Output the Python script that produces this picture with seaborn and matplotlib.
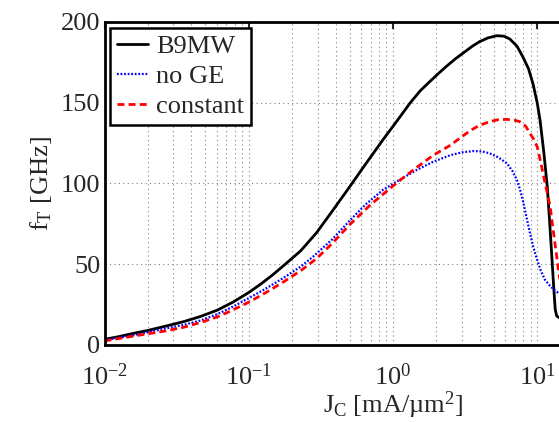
import matplotlib
matplotlib.use("Agg")
import matplotlib.pyplot as plt
import numpy as np
import pandas as pd
import seaborn as sns
from matplotlib.ticker import LogLocator, NullFormatter

# values; J given as log10(J [mA/um^2]), fT in GHz
logj_b9mw = [-2.0, -1.9, -1.8, -1.7, -1.57, -1.45, -1.34, -1.22, -1.11, -1.0,
             -0.92, -0.84, -0.76, -0.64, -0.53, -0.42, -0.30, -0.19, -0.07, 0.03,
             0.12, 0.19, 0.26, 0.32, 0.37, 0.43, 0.49, 0.55, 0.60, 0.66,
             0.72, 0.77, 0.81, 0.86, 0.90, 0.94, 0.97, 1.0, 1.02, 1.045,
             1.07, 1.085, 1.10, 1.115, 1.125, 1.135, 1.15, 1.2]
ft_b9mw = [3.5, 5.2, 7.2, 9.0, 11.8, 14.5, 17.5, 21.5, 26.5, 32.5,
           37.5, 43, 49, 58.3, 69.5, 83, 98, 112, 127, 139,
           150, 157.5, 163.5, 168.5, 172.5, 177, 181, 185, 187.8, 190.2,
           191.5, 191.2, 189.5, 185, 178.5, 171, 162, 150, 139, 120,
           98, 78, 56.8, 35, 22, 18, 17, 15]

logj_noge = [-2.0, -1.8, -1.57, -1.45, -1.34, -1.22, -1.11, -1.0, -0.88, -0.76,
             -0.64, -0.55, -0.42, -0.30, -0.19, -0.07, 0.05, 0.165, 0.28, 0.40,
             0.48, 0.56, 0.62, 0.67, 0.73, 0.79, 0.83, 0.86, 0.88, 0.90,
             0.925, 0.95, 0.975, 1.0, 1.025, 1.055, 1.09, 1.12, 1.15, 1.2]
ft_noge = [3, 6, 10.3, 12.5, 15, 19, 23.7, 29, 35, 41.5,
           48.5, 55, 65.5, 77, 87, 96, 102.5, 108.4, 113.5, 117.6,
           119.3, 120.1, 119.8, 118.7, 116.2, 112.5, 107.5, 102, 96.5, 89.8,
           79.5, 69.2, 60, 52.6, 46, 40.2, 36.5, 34, 32, 29]

logj_const = [-2.0, -1.8, -1.57, -1.45, -1.34, -1.22, -1.11, -1.0, -0.88, -0.76,
              -0.64, -0.53, -0.42, -0.30, -0.16, -0.02, 0.07, 0.165, 0.28, 0.40,
              0.47, 0.54, 0.60, 0.67, 0.73, 0.79, 0.84, 0.88, 0.92, 0.95,
              0.975, 1.0, 1.02, 1.04, 1.065, 1.09, 1.105, 1.12, 1.135, 1.15, 1.17]
ft_const = [2.5, 5.5, 8.8, 11, 13.8, 17.3, 21.7, 26.5, 32.5, 39,
            46, 53.5, 63, 74.5, 86.5, 97, 103.5, 110, 117.5, 123.8,
            128.5, 133, 136, 138.3, 139.5, 139.7, 139.2, 138.3, 135.5, 131,
            127.5, 122.8, 115, 106.3, 96, 85.6, 75, 65, 55, 44.4, 35]

x_ticks = [0.01, 0.1, 1, 10, 100]
y_ticks = [0, 50, 100, 150, 200]

sns.set_style("white")
plt.rcParams["font.family"] = ["Liberation Serif", "DejaVu Serif"]
plt.rcParams["mathtext.fontset"] = "custom"
plt.rcParams["mathtext.rm"] = "Liberation Serif"
plt.rcParams["mathtext.default"] = "regular"

fig = plt.figure(figsize=(5.59, 4.22), dpi=100)
# axes run on past the right edge of the picture, as in the reference
ax = fig.add_axes([0.187, 0.1825, 1.032, 0.7654])

sns.lineplot(x=10 ** np.array(logj_b9mw), y=ft_b9mw, ax=ax, color="black",
             lw=2, sort=False, label="B9MW")
sns.lineplot(x=10 ** np.array(logj_noge), y=ft_noge, ax=ax, color="blue",
             lw=1.6, sort=False, linestyle=(0, (0.8, 0.8)), label="no GE")
sns.lineplot(x=10 ** np.array(logj_const), y=ft_const, ax=ax, color="red",
             lw=2, sort=False, linestyle=(0, (2.5, 1.5)), label="constant")

ax.set_xscale("log")
ax.set_xlim(0.01, 100)
ax.set_ylim(0, 200)
ax.set_xticks(x_ticks)
ax.set_yticks(y_ticks)
ax.xaxis.set_minor_locator(LogLocator(base=10, subs=np.arange(2, 10)))
ax.xaxis.set_minor_formatter(NullFormatter())

ax.grid(True, which="major", axis="both", color="0.5", lw=0.8,
        linestyle=(0, (1, 3)))
ax.grid(True, which="minor", axis="x", color="0.5", lw=0.8,
        linestyle=(0, (1, 3)))
ax.set_axisbelow(True)

for s in ax.spines.values():
    s.set_linewidth(2)
    s.set_color("black")
ax.tick_params(which="major", direction="in", length=5, width=1.5,
               labelsize=19, top=True, right=True)
ax.tick_params(axis="x", pad=13)
ax.tick_params(axis="y", pad=3)
ax.tick_params(which="minor", direction="in", length=0)

ax.set_xlabel(r"J$_{C}$ [mA/µm$^{2}$]", fontsize=19, labelpad=0)
ax.set_ylabel(r"f$_{T}$ [GHz]", fontsize=19, labelpad=5)

leg = ax.legend(loc="upper left", bbox_to_anchor=(0.0095, 0.981),
                borderaxespad=0, fontsize=19, handlelength=1.2,
                handletextpad=0.3, labelspacing=0.25, borderpad=0.25,
                fancybox=False, framealpha=1, edgecolor="black")
leg.get_frame().set_linewidth(1.8)

fig.savefig("out.png", dpi=100)
